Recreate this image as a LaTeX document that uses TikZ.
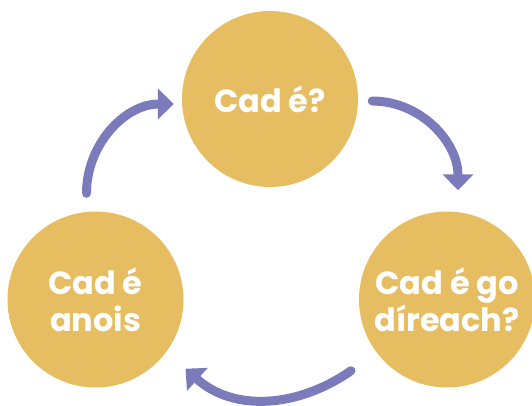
\documentclass[tikz,border=0pt]{standalone}
\usepackage{fontspec}
\setmainfont{Poppins}
\usetikzlibrary{positioning,arrows.meta}
\definecolor{gold}{RGB}{230,189,96}
\definecolor{lilac}{RGB}{123,123,188}
\tikzset{
  stage/.style={circle,fill=gold,minimum size=176pt,inner sep=0pt,text=white,
    align=center,font=\bfseries\fontsize{32}{37}\selectfont},
  cyc/.style={lilac,line width=9pt,line cap=round,-{Triangle[width=30pt,length=16pt]}}
}
\begin{document}
\begin{tikzpicture}[x=1pt,y=1pt,on grid]
    \useasboundingbox (0,0) rectangle (532,405);
    \node[stage] (c_0) at (270,306)                           {Cad é?};
    \node[stage] (c_1) [below right=200.5pt and 177pt of c_0] {Cad é go\\díreach?};
    \node[stage] (c_2) [below left=200.5pt and 174.5pt of c_0] {Cad é\\anois};
    \draw[cyc] ([shift={(-9pt,18pt)}]c_2.north) to[out=90,in=180] ([shift={(-8pt,-5pt)}]c_0.west);
    \draw[cyc] ([shift={(14pt,-2pt)}]c_0.east) to[out=0,in=90] ([shift={(11pt,21pt)}]c_1.north);
    \draw[cyc] ([shift={(-96pt,17pt)}]c_1.south) to[out=215,in=-42] ([shift={(90pt,19pt)}]c_2.south);
\end{tikzpicture}
\end{document}
